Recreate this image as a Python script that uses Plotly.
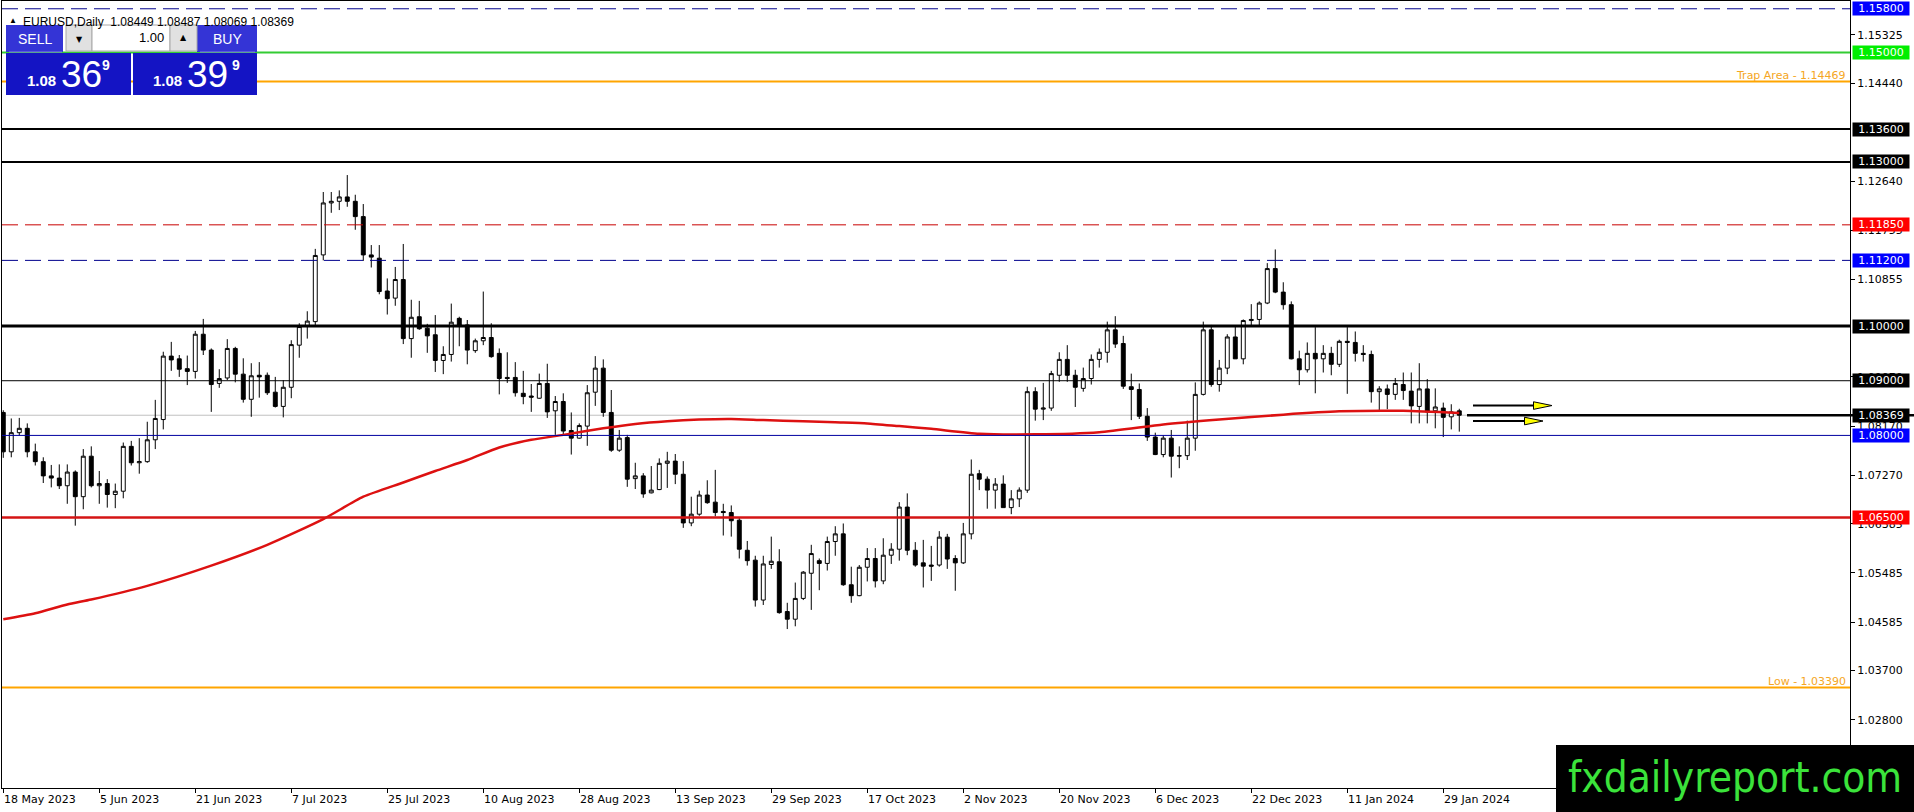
import plotly.graph_objects as go

# values (bar index 0 = 18 May 2023)
date_labels = ["18 May 2023", "5 Jun 2023", "21 Jun 2023", "7 Jul 2023", "25 Jul 2023",
               "10 Aug 2023", "28 Aug 2023", "13 Sep 2023", "29 Sep 2023", "17 Oct 2023",
               "2 Nov 2023", "20 Nov 2023", "6 Dec 2023", "22 Dec 2023", "11 Jan 2024",
               "29 Jan 2024"]
date_bars = [0, 12, 24, 36, 48, 60, 72, 84, 96, 108, 120, 132, 144, 156, 168, 180]

opens = [
    1.0842, 1.0770, 1.0805, 1.0813, 1.0770, 1.0752, 1.0726, 1.0722, 1.0708, 1.0733,
    1.0688, 1.0762, 1.0708, 1.0712, 1.0692, 1.0698, 1.0780, 1.0750, 1.0752, 1.0792,
    1.0829, 1.0945, 1.0940, 1.0922, 1.0917, 1.0985, 1.0956, 1.0895, 1.0905, 1.0959,
    1.0912, 1.0866, 1.0910, 1.0910, 1.0879, 1.0853, 1.0888, 1.0965, 1.1000, 1.1008,
    1.1130, 1.1225, 1.1228, 1.1236, 1.1228, 1.1200, 1.1130, 1.1124, 1.1064, 1.1051,
    1.1085, 1.0977, 1.1017, 1.0996, 1.0984, 1.0937, 1.0948, 1.1014, 1.1002, 1.0955,
    1.0973, 1.0979, 1.0950, 1.0906, 1.0906, 1.0877, 1.0872, 1.0868, 1.0895, 1.0845,
    1.0862, 1.0809, 1.0795, 1.0817, 1.0879, 1.0923, 1.0842, 1.0773, 1.0796, 1.0721,
    1.0726, 1.0695, 1.0701, 1.0749, 1.0753, 1.0729, 1.0640, 1.0656, 1.0691, 1.0678,
    1.0661, 1.0659, 1.0645, 1.0590, 1.0572, 1.0499, 1.0564, 1.0569, 1.0478, 1.0464,
    1.0502, 1.0548, 1.0571, 1.0566, 1.0606, 1.0620, 1.0527, 1.0507, 1.0559, 1.0575,
    1.0534, 1.0581, 1.0592, 1.0669, 1.0590, 1.0567, 1.0563, 1.0563, 1.0614, 1.0575,
    1.0567, 1.0620, 1.0730, 1.0720, 1.0700, 1.0711, 1.0668, 1.0684, 1.0700, 1.0880,
    1.0848, 1.0850, 1.0910, 1.0939, 1.0910, 1.0886, 1.0904, 1.0939, 1.0952, 1.0993,
    1.0968, 1.0889, 1.0884, 1.0835, 1.0797, 1.0765, 1.0795, 1.0762, 1.0763, 1.0795,
    1.0875, 1.0993, 1.0893, 1.0923, 1.0980, 1.0940, 1.1010, 1.1012, 1.1042, 1.1105,
    1.1062, 1.1039, 1.0940, 1.0920, 1.0950, 1.0940, 1.0950, 1.0930, 1.0972, 1.0970,
    1.0950, 1.0948, 1.0880, 1.0885, 1.0875, 1.0893, 1.0881, 1.0853, 1.0885, 1.0845,
    1.0850, 1.0834, 1.08449]
highs = [
    1.0846, 1.0831, 1.0832, 1.0822, 1.0785, 1.0760, 1.0746, 1.0747, 1.0747, 1.0736,
    1.0775, 1.0780, 1.0735, 1.0720, 1.0712, 1.0787, 1.0790, 1.0795, 1.0825, 1.0865,
    1.0953, 1.0971, 1.0947, 1.0946, 1.0991, 1.1013, 1.0959, 1.0921, 1.0976, 1.0962,
    1.0941, 1.0932, 1.0934, 1.0915, 1.0907, 1.0901, 1.0974, 1.1005, 1.1027, 1.1141,
    1.1245, 1.1245, 1.1248, 1.1276, 1.1240, 1.1223, 1.1148, 1.1148, 1.1087, 1.1108,
    1.1150, 1.1048, 1.1046, 1.1004, 1.1020, 1.0963, 1.1041, 1.1017, 1.1011, 1.0977,
    1.1063, 1.1005, 1.0959, 1.0952, 1.0934, 1.0918, 1.0894, 1.0913, 1.0931, 1.0872,
    1.0877, 1.0842, 1.0822, 1.0892, 1.0945, 1.0939, 1.0883, 1.0810, 1.0801, 1.0750,
    1.0731, 1.0744, 1.0758, 1.0770, 1.0766, 1.0753, 1.0688, 1.0699, 1.0718, 1.0737,
    1.0675, 1.0672, 1.0650, 1.0607, 1.0580, 1.0580, 1.0615, 1.0592, 1.0494, 1.0531,
    1.0552, 1.0600, 1.0575, 1.0615, 1.0634, 1.0639, 1.0560, 1.0563, 1.0594, 1.0594,
    1.0612, 1.0603, 1.0678, 1.0694, 1.0605, 1.0609, 1.0598, 1.0625, 1.0620, 1.0581,
    1.0640, 1.0756, 1.0737, 1.0725, 1.0722, 1.0727, 1.0700, 1.0705, 1.0889, 1.0888,
    1.0896, 1.0918, 1.0952, 1.0965, 1.0920, 1.0924, 1.0948, 1.0959, 1.1008, 1.1018,
    1.0982, 1.0913, 1.0895, 1.0850, 1.0805, 1.0800, 1.0810, 1.0780, 1.0827, 1.0897,
    1.1008, 1.1002, 1.0938, 1.0985, 1.1000, 1.1012, 1.1040, 1.1045, 1.1115, 1.1140,
    1.1080, 1.1045, 1.0955, 1.0970, 1.0998, 1.0965, 1.0962, 1.0975, 1.0998, 1.0990,
    1.0965, 1.0955, 1.0890, 1.0893, 1.0905, 1.0915, 1.0915, 1.0932, 1.0903, 1.0886,
    1.0860, 1.0857, 1.08487]
lows = [
    1.0759, 1.0760, 1.0800, 1.0760, 1.0745, 1.0713, 1.0705, 1.0702, 1.0675, 1.0635,
    1.0665, 1.0705, 1.0675, 1.0668, 1.0667, 1.0685, 1.0745, 1.0730, 1.0750, 1.0775,
    1.0811, 1.0918, 1.0907, 1.0892, 1.0904, 1.0947, 1.0843, 1.0887, 1.0901, 1.0897,
    1.0860, 1.0834, 1.0869, 1.0874, 1.0851, 1.0833, 1.0868, 1.0942, 1.0977, 1.0999,
    1.1120, 1.1207, 1.1212, 1.1218, 1.1176, 1.1119, 1.1107, 1.1058, 1.1021, 1.1037,
    1.0967, 1.0942, 1.0993, 1.0951, 1.0916, 1.0912, 1.0935, 1.0963, 1.0930, 1.0951,
    1.0965, 1.0942, 1.0875, 1.0896, 1.0871, 1.0857, 1.0843, 1.0867, 1.0832, 1.0801,
    1.0801, 1.0765, 1.0794, 1.0781, 1.0854, 1.0834, 1.0770, 1.0770, 1.0706, 1.0702,
    1.0686, 1.0694, 1.0700, 1.0704, 1.0711, 1.0631, 1.0634, 1.0653, 1.0675, 1.0652,
    1.0617, 1.0615, 1.0575, 1.0562, 1.0487, 1.0490, 1.0556, 1.0474, 1.0446, 1.0451,
    1.0499, 1.0481, 1.0517, 1.0553, 1.0580, 1.0525, 1.0494, 1.0506, 1.0533, 1.0522,
    1.0528, 1.0565, 1.0571, 1.0581, 1.0560, 1.0522, 1.0534, 1.0560, 1.0556, 1.0516,
    1.0565, 1.0610, 1.0700, 1.0666, 1.0666, 1.0668, 1.0656, 1.0669, 1.0695, 1.0827,
    1.0828, 1.0845, 1.0898, 1.0898, 1.0852, 1.0880, 1.0893, 1.0924, 1.0933, 1.0960,
    1.0885, 1.0828, 1.0830, 1.0790, 1.0764, 1.0760, 1.0723, 1.0740, 1.0755, 1.0772,
    1.0873, 1.0889, 1.0880, 1.0912, 1.0940, 1.0930, 1.1000, 1.1000, 1.1040, 1.1060,
    1.1030, 1.0939, 1.0892, 1.0915, 1.0877, 1.0915, 1.0910, 1.0925, 1.0876, 1.0935,
    1.0935, 1.0860, 1.0845, 1.0848, 1.0865, 1.0865, 1.0822, 1.0822, 1.0822, 1.0813,
    1.0797, 1.0811, 1.08069]
closes = [
    1.0770, 1.0805, 1.0813, 1.0770, 1.0752, 1.0726, 1.0722, 1.0708, 1.0733, 1.0688,
    1.0762, 1.0708, 1.0712, 1.0692, 1.0698, 1.0780, 1.0750, 1.0752, 1.0792, 1.0831,
    1.0945, 1.0938, 1.0921, 1.0917, 1.0985, 1.0956, 1.0893, 1.0904, 1.0959, 1.0912,
    1.0866, 1.0909, 1.0907, 1.0878, 1.0853, 1.0888, 1.0966, 1.0999, 1.1009, 1.1129,
    1.1225, 1.1228, 1.1236, 1.1228, 1.1200, 1.1130, 1.1126, 1.1063, 1.1050, 1.1085,
    1.0977, 1.1016, 1.0995, 1.0982, 1.0937, 1.0948, 1.1007, 1.1001, 1.0956, 1.0973,
    1.0979, 1.0944, 1.0904, 1.0904, 1.0878, 1.0871, 1.0870, 1.0895, 1.0843, 1.0862,
    1.0808, 1.0795, 1.0818, 1.0878, 1.0923, 1.0842, 1.0773, 1.0795, 1.0720, 1.0726,
    1.0693, 1.0700, 1.0749, 1.0753, 1.0729, 1.0640, 1.0656, 1.0691, 1.0677, 1.0659,
    1.0659, 1.0644, 1.0592, 1.0571, 1.0499, 1.0565, 1.0570, 1.0476, 1.0464, 1.0502,
    1.0550, 1.0584, 1.0566, 1.0606, 1.0620, 1.0527, 1.0507, 1.0559, 1.0575, 1.0534,
    1.0581, 1.0592, 1.0669, 1.0590, 1.0563, 1.0561, 1.0561, 1.0614, 1.0574, 1.0567,
    1.0620, 1.0729, 1.0720, 1.0700, 1.0711, 1.0668, 1.0684, 1.0700, 1.0880, 1.0848,
    1.0850, 1.0913, 1.0939, 1.0910, 1.0888, 1.0904, 1.0939, 1.0952, 1.0993, 1.0967,
    1.0890, 1.0884, 1.0835, 1.0797, 1.0765, 1.0795, 1.0762, 1.0763, 1.0795, 1.0875,
    1.0993, 1.0893, 1.0923, 1.0980, 1.0940, 1.1010, 1.1012, 1.1042, 1.1105, 1.1062,
    1.1039, 1.0940, 1.0920, 1.0950, 1.0940, 1.0950, 1.0930, 1.0972, 1.0970, 1.0950,
    1.0948, 1.0880, 1.0885, 1.0875, 1.0895, 1.0882, 1.0854, 1.0885, 1.0843, 1.0852,
    1.0833, 1.0843, 1.08369]

# moving average (red line), read at a few bars
ma_bars = [0, 4, 8, 11, 18, 26, 33, 40, 45, 50, 54, 58, 62, 66, 70, 75, 79, 83, 87,
           91, 95, 100, 104, 108, 112, 116, 122, 129, 137, 145, 152, 160, 167, 175, 182]
ma_vals = [1.0464, 1.0475, 1.0491, 1.0500, 1.0525, 1.0562, 1.0600, 1.0647, 1.0688,
           1.0714, 1.0735, 1.0755, 1.0778, 1.0792, 1.0801, 1.0813, 1.0821, 1.0826,
           1.0829, 1.0830, 1.0828, 1.0826, 1.0824, 1.0822, 1.0817, 1.0812, 1.0803,
           1.0802, 1.0806, 1.0820, 1.0829, 1.0838, 1.0844, 1.0845, 1.0841]

levels = [1.15800, 1.15000, 1.14469, 1.13600, 1.13000, 1.11850, 1.11200,
          1.10000, 1.09000, 1.08369, 1.08000, 1.06500, 1.03390]
# scale ticks that show (fully or partly) beside the coloured price tags
price_ticks = [1.15325, 1.14440, 1.12640, 1.11755, 1.10855, 1.09070,
               1.08170, 1.07270, 1.06385, 1.05485, 1.04585, 1.03700, 1.02800]
bid = 1.08369
ohlc_header = "EURUSD,Daily  1.08449 1.08487 1.08069 1.08369"

# ---- page geometry (pixels) ----
W, H = 1914, 812
ML, MR, MT, MB = 2, 64, 1, 24
PW, PH = W - ML - MR, H - MT - MB
Y_RANGE = [1.01554, 1.15942]
X_RANGE = [-0.16, 230.84]


def px(x):
    return (x - ML) / PW


def py(y):
    return (H - MB - y) / PH


def bar_x(pix):
    # pixel column -> bar index
    return X_RANGE[0] + (pix - ML) / PW * (X_RANGE[1] - X_RANGE[0])


def price_h(pixels):
    return pixels * (Y_RANGE[1] - Y_RANGE[0]) / PH


# line style per level: colour, width, dash, label background
style = {
    1.15800: ("#00008C", 1, "16px,7px", "#0000FF"),
    1.15000: ("#33CC33", 2, "solid", "#00EE00"),
    1.14469: ("#FFA500", 2, "solid", None),
    1.13600: ("black", 2, "solid", "black"),
    1.13000: ("black", 2, "solid", "black"),
    1.11850: ("#C80000", 1, "16px,7px", "#FF0000"),
    1.11200: ("#00008C", 1, "16px,7px", "#0000FF"),
    1.10000: ("black", 3, "solid", "black"),
    1.09000: ("black", 1, "solid", "black"),
    1.08369: ("#C0C0C0", 1, "solid", "black"),
    1.08000: ("#0000A0", 1, "solid", "#0000FF"),
    1.06500: ("#D41414", 2.5, "solid", "#FF0000"),
    1.03390: ("#FFA500", 2, "solid", None),
}

n = len(opens)
fig = go.Figure()
fig.add_trace(go.Candlestick(
    x=list(range(n)), open=opens, high=highs, low=lows, close=closes,
    increasing=dict(line=dict(color="black", width=1), fillcolor="white"),
    decreasing=dict(line=dict(color="black", width=1), fillcolor="black"),
    whiskerwidth=0, hoverinfo="none", showlegend=False))
fig.add_trace(go.Scatter(
    x=ma_bars, y=ma_vals, mode="lines", line=dict(color="#DD1111", width=2.5, shape="spline", smoothing=0.6),
    hoverinfo="skip", showlegend=False))

shapes = []
annotations = []
for lv in levels:
    color, width, dash, label_bg = style[lv]
    shapes.append(dict(type="line", xref="paper", yref="y", x0=0, x1=1, y0=lv, y1=lv,
                       line=dict(color=color, width=width, dash=dash),
                       layer="below" if lv == bid else "above"))
    if label_bg:
        annotations.append(dict(xref="paper", yref="y", x=1, y=lv, xanchor="left", xshift=2,
                                text="%.5f" % lv, showarrow=False, bgcolor=label_bg,
                                font=dict(family="DejaVu Sans", size=11, color="white"),
                                width=54, height=11, borderpad=1))

# thick black line at the bid, right of the last bar
shapes.append(dict(type="line", xref="paper", yref="paper", x0=px(1467), x1=px(1914),
                   y0=(bid - Y_RANGE[0]) / (Y_RANGE[1] - Y_RANGE[0]),
                   y1=(bid - Y_RANGE[0]) / (Y_RANGE[1] - Y_RANGE[0]),
                   line=dict(color="black", width=2.5), layer="above"))

# orange captions
annotations.append(dict(xref="paper", yref="y", x=1, y=1.14469, xanchor="right", yanchor="bottom",
                        xshift=-2, yshift=-2, text="Trap Area - 1.14469", showarrow=False,
                        font=dict(family="DejaVu Sans", size=11, color="#F5A623")))
annotations.append(dict(xref="paper", yref="y", x=1, y=1.03390, xanchor="right", yanchor="bottom",
                        xshift=-2, yshift=-2, text="Low - 1.03390", showarrow=False,
                        font=dict(family="DejaVu Sans", size=11, color="#F5A623")))

# two yellow-headed arrows right of the last candle
for ay, x_end in [(1.08546, 1552), (1.08263, 1543)]:
    head = 18.5
    half = price_h(3.8)
    shapes.append(dict(type="line", xref="x", yref="y", x0=bar_x(1473), x1=bar_x(x_end - head + 2),
                       y0=ay, y1=ay, line=dict(color="black", width=2), layer="above"))
    shapes.append(dict(type="path", xref="x", yref="y", layer="above",
                       path="M %f,%f L %f,%f L %f,%f Z" % (bar_x(x_end - head), ay + half,
                                                           bar_x(x_end), ay,
                                                           bar_x(x_end - head), ay - half),
                       fillcolor="#FFFF00", line=dict(color="black", width=1)))

# date labels along the bottom
for b, lab in zip(date_bars, date_labels):
    annotations.append(dict(xref="x", yref="paper", x=b, y=0, xanchor="left", yanchor="top",
                            xshift=-1, yshift=-3, text=lab, showarrow=False,
                            font=dict(family="DejaVu Sans", size=11, color="black")))

# header text
annotations.append(dict(xref="paper", yref="paper", x=px(7), y=py(12), xanchor="left",
                        text="\u25b2", showarrow=False, font=dict(size=8, color="black")))
annotations.append(dict(xref="paper", yref="paper", x=px(21), y=py(13), xanchor="left",
                        text=ohlc_header, showarrow=False,
                        font=dict(family="Liberation Sans", size=12, color="black")))


# one-click trading panel
def rect(x0, y0, x1, y1, fill, line_color=None, lw=1):
    shapes.append(dict(type="rect", xref="paper", yref="paper", x0=px(x0), x1=px(x1),
                       y0=py(y1), y1=py(y0), fillcolor=fill, layer="above",
                       line=dict(color=line_color or fill, width=lw if line_color else 0)))


def label(x, y, s, size, color="white", family="Liberation Sans", anchor="center"):
    annotations.append(dict(xref="paper", yref="paper", x=px(x), y=py(y), xanchor=anchor,
                            yanchor="middle", text=s, showarrow=False,
                            font=dict(family=family, size=size, color=color)))


rect(6, 25, 63, 52, "#3434D6")
rect(197, 25, 257, 52, "#3434D6")
rect(6, 53, 131, 95, "#1414C4")
rect(133, 53, 257, 95, "#1414C4")
rect(66, 25, 92, 51, "#E1E1E1", "#A8A8A8")
rect(92, 25, 170, 51, "white", "#A8A8A8")
rect(170, 25, 197, 51, "#E1E1E1", "#A8A8A8")
shapes.append(dict(type="line", xref="paper", yref="paper", x0=px(9), x1=px(62), y0=py(52), y1=py(52),
                   line=dict(color="#8080E8", width=1), layer="above"))
shapes.append(dict(type="line", xref="paper", yref="paper", x0=px(200), x1=px(255), y0=py(52), y1=py(52),
                   line=dict(color="#8080E8", width=1), layer="above"))

label(35, 38.5, "SELL", 14)
label(227, 38.5, "BUY", 14)
label(166, 38, "1.00", 13, color="black", anchor="right")
label(79, 39, "\u25bc", 8, color="black", family="DejaVu Sans")
label(183.5, 38, "\u25b2", 8, color="black", family="DejaVu Sans")
label(41.5, 81, "<b>1.08</b>", 15)
label(81, 75, "36", 37)
label(106, 65, "<b>9</b>", 14)
label(167, 81, "<b>1.08</b>", 15)
label(207.5, 75, "39", 37)
label(236, 65, "<b>9</b>", 14)

# watermark box
rect(1556, 745, 1914, 812, "black")
label(1735, 777, "fxdailyreport.com", 42, color="#3BE33B",
      family="DejaVu Sans Condensed, Liberation Sans, sans-serif")

fig.update_layout(
    width=W, height=H,
    margin=dict(l=ML, r=MR, t=MT, b=MB, pad=0),
    paper_bgcolor="white", plot_bgcolor="white",
    shapes=shapes, annotations=annotations,
    showlegend=False,
    xaxis=dict(range=X_RANGE, rangeslider=dict(visible=False), showgrid=False, zeroline=False,
               showline=True, linecolor="black", linewidth=1, mirror=True,
               tickvals=date_bars, ticks="outside", ticklen=4, tickcolor="black",
               showticklabels=False, fixedrange=True),
    yaxis=dict(range=Y_RANGE, side="right", showgrid=False, zeroline=False,
               showline=True, linecolor="black", linewidth=1, mirror=True,
               tickvals=price_ticks, ticktext=["%.5f" % t for t in price_ticks],
               ticks="outside", ticklen=4, tickcolor="black",
               tickfont=dict(family="DejaVu Sans", size=11, color="black"), fixedrange=True),
)

fig.write_html("out.html", config={"displayModeBar": False},
               post_script="document.body.style.margin='0';document.body.style.overflow='hidden';")
